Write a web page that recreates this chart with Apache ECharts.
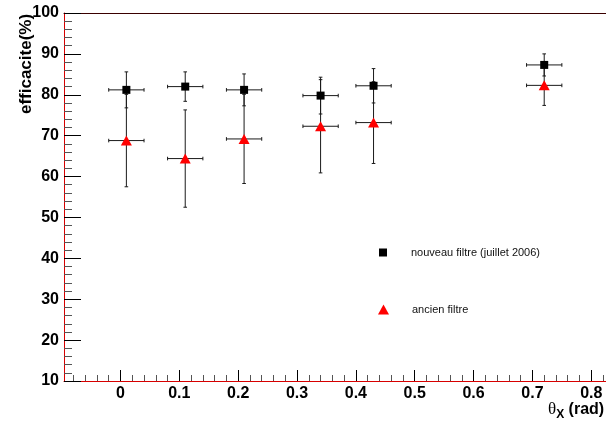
<!DOCTYPE html>
<html>
<head>
<meta charset="utf-8">
<script src="https://cdn.jsdelivr.net/npm/echarts@6/dist/echarts.min.js"></script>
<style>html,body{margin:0;padding:0;background:#fff}#c{width:606px;height:424px}</style>
</head>
<body>
<div id="c"></div>
<script>
// ---- data ----
var thetaX      = [0.01, 0.11, 0.21, 0.34, 0.43, 0.72];
var thetaXErr   = [0.03, 0.03, 0.03, 0.03, 0.03, 0.03];
var nouveau     = [81.2, 82.0, 81.2, 79.8, 82.2, 87.3];
var nouveauErr  = [4.4, 3.6, 3.9, 4.5, 4.2, 2.7];
var ancien      = [68.8, 64.4, 69.2, 72.3, 73.2, 82.3];
var ancienErr   = [11.3, 11.9, 10.9, 11.4, 10.0, 4.9];
var xTickLabels = ['0', '0.1', '0.2', '0.3', '0.4', '0.5', '0.6', '0.7', '0.8'];
var yTickLabels = ['10', '20', '30', '40', '50', '60', '70', '80', '90', '100'];
var seriesNames = ['nouveau filtre (juillet 2006)', 'ancien filtre'];

var XMIN = -0.096, XMAX = 0.825;
var xMajor = xTickLabels.map(Number);
var xMinor = [];
for (var k = -4; k <= 41; k++) { var v = +(k * 0.02).toFixed(2); if (v > XMIN && v < XMAX && Math.abs(v*10 - Math.round(v*10)) > 1e-6) xMinor.push(v); }

function rows(y, ye) { return thetaX.map(function (x, i) { return [x, y[i], thetaXErr[i], ye[i]]; }); }

function errRender(params, api) {
  var x = api.value(0), y = api.value(1), xe = api.value(2), ye = api.value(3);
  var c = api.coord([x, y]);
  var l = api.coord([x - xe, y]), r = api.coord([x + xe, y]);
  var t = api.coord([x, y + ye]), b = api.coord([x, y - ye]);
  var cap = 1.8;
  var st = { stroke: '#1a1a1a', lineWidth: 1 };
  var segs = [
    [l[0], c[1], r[0], c[1]],
    [c[0], t[1], c[0], b[1]],
    [l[0], c[1] - cap, l[0], c[1] + cap],
    [r[0], c[1] - cap, r[0], c[1] + cap],
    [c[0] - cap, t[1], c[0] + cap, t[1]],
    [c[0] - cap, b[1], c[0] + cap, b[1]]
  ];
  return { type: 'group', children: segs.map(function (s) {
    return { type: 'line', shape: { x1: s[0], y1: s[1], x2: s[2], y2: s[3] }, style: st };
  }) };
}

var FONT = 'Liberation Sans, Arial, sans-serif';
var chart = echarts.init(document.getElementById('c'), null, { renderer: 'canvas' });
chart.setOption({
  animation: false,
  backgroundColor: '#fff',
  grid: { left: 64, right: 0, top: 13, bottom: 43, containLabel: false, outerBoundsMode: 'none' },
  legend: [
    { data: [{ name: seriesNames[0], icon: 'rect' }], orient: 'vertical', left: 379, top: 247, padding: 0,
      itemWidth: 8, itemHeight: 8, selectedMode: false,
      textStyle: { fontFamily: FONT, fontSize: 11, color: '#111', padding: [0, 0, 0, 19] } },
    { data: [{ name: seriesNames[1], icon: 'triangle' }], orient: 'vertical', left: 378, top: 304, padding: 0,
      itemWidth: 11, itemHeight: 10, selectedMode: false,
      textStyle: { fontFamily: FONT, fontSize: 11, color: '#111', padding: [0, 0, 0, 18] } }
  ],
  xAxis: [
    { type: 'value', min: XMIN, max: XMAX, position: 'bottom',
      axisLine: { show: true, onZero: false, lineStyle: { color: '#d80000', width: 1 } },
      axisTick: { show: true, inside: true, length: 11, customValues: xMajor, lineStyle: { color: '#000' } },
      axisLabel: { show: true, customValues: xMajor, margin: 5, fontFamily: FONT, fontSize: 16, fontWeight: 'bold', color: '#000',
        formatter: function (v) { var i = xMajor.findIndex(function (m) { return Math.abs(m - v) < 1e-6; }); return i >= 0 ? xTickLabels[i] : ''; } },
      splitLine: { show: false },
      name: '{th|θ}{sub|X}{r| (rad)}', nameLocation: 'end', nameGap: -58, nameMoveOverlap: false,
      nameTextStyle: { verticalAlign: 'top', padding: [19, 0, 0, 0],
        rich: {
          th: { fontFamily: 'Liberation Serif, DejaVu Serif, serif', fontSize: 17, color: '#000', lineHeight: 20 },
          sub: { fontFamily: FONT, fontSize: 12, fontWeight: 'bold', color: '#000', lineHeight: 20, padding: [9, 0, 0, 0] },
          r: { fontFamily: FONT, fontSize: 16, fontWeight: 'bold', color: '#000', lineHeight: 20 }
        } } },
    { type: 'value', min: XMIN, max: XMAX, position: 'bottom', gridIndex: 0,
      axisLine: { show: false },
      axisTick: { show: true, inside: true, length: 6, customValues: xMinor, lineStyle: { color: '#555' } },
      axisLabel: { show: false }, splitLine: { show: false } },
    { type: 'value', min: XMIN, max: XMAX, position: 'top', gridIndex: 0,
      axisLine: { show: true, onZero: false, lineStyle: { color: '#3a0000', width: 1 } },
      axisTick: { show: false }, axisLabel: { show: false }, splitLine: { show: false } }
  ],
  yAxis: [
    { type: 'value', min: 10, max: 100, interval: 10,
      axisLine: { show: true, onZero: false, lineStyle: { color: '#d80000', width: 1 } },
      axisTick: { show: true, inside: true, length: 17, lineStyle: { color: '#000' } },
      minorTick: { show: true, splitNumber: 5, length: 8, lineStyle: { color: '#555' } },
      axisLabel: { margin: 5, fontFamily: FONT, fontSize: 16, fontWeight: 'bold', color: '#000',
        formatter: function (v) { return yTickLabels[Math.round(v / 10) - 1] || ''; } },
      splitLine: { show: false }, minorSplitLine: { show: false },
      name: 'efficacite(%)', nameLocation: 'middle', nameGap: 29, nameRotate: 90, nameMoveOverlap: false,
      nameTextStyle: { fontFamily: FONT, fontSize: 17, fontWeight: 'bold', color: '#000', padding: [0, 0, 0, 266] } }
  ],
  series: [
    { type: 'custom', name: 'errN', renderItem: errRender, data: rows(nouveau, nouveauErr),
      encode: { x: 0, y: 1 }, xAxisIndex: 0, yAxisIndex: 0, z: 2, silent: true },
    { type: 'custom', name: 'errA', renderItem: errRender, data: rows(ancien, ancienErr),
      encode: { x: 0, y: 1 }, xAxisIndex: 0, yAxisIndex: 0, z: 2, silent: true },
    { type: 'scatter', name: seriesNames[1], symbol: 'triangle', symbolSize: [11, 10],
      itemStyle: { color: '#ff0000', opacity: 1 }, data: thetaX.map(function (x, i) { return [x, ancien[i]]; }), z: 4 },
    { type: 'scatter', name: seriesNames[0], symbol: 'rect', symbolSize: 8,
      itemStyle: { color: '#000', opacity: 1 }, data: thetaX.map(function (x, i) { return [x, nouveau[i]]; }), z: 5 }
  ]
});
</script>
</body>
</html>
